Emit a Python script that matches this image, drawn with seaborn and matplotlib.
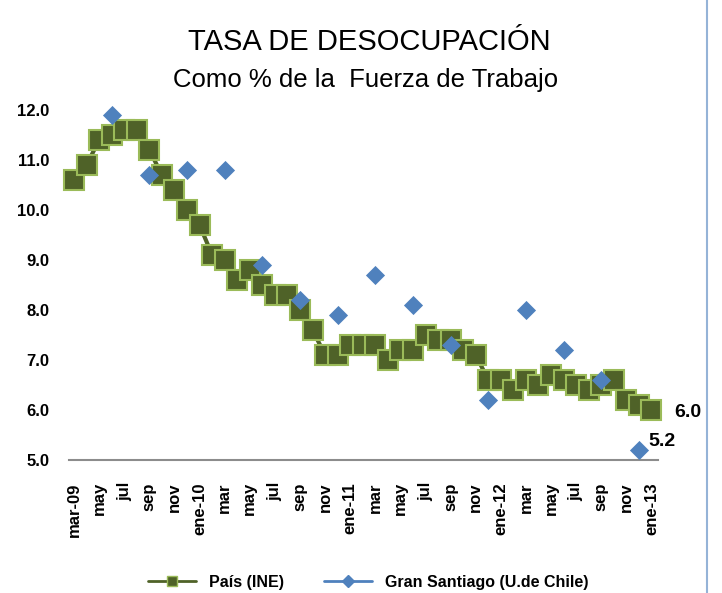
import numpy as np
import pandas as pd
import matplotlib.pyplot as plt
import seaborn as sns
from matplotlib.lines import Line2D

# Tasa de desocupación, marzo 2009 - enero 2013 (mensual)
meses = ["mar-09", "abr", "may", "jun", "jul", "ago", "sep", "oct", "nov", "dic",
         "ene-10", "feb", "mar", "abr", "may", "jun", "jul", "ago", "sep", "oct", "nov", "dic",
         "ene-11", "feb", "mar", "abr", "may", "jun", "jul", "ago", "sep", "oct", "nov", "dic",
         "ene-12", "feb", "mar", "abr", "may", "jun", "jul", "ago", "sep", "oct", "nov", "dic",
         "ene-13"]
pais_ine = [10.6, 10.9, 11.4, 11.5, 11.6, 11.6, 11.2, 10.7, 10.4, 10.0,
            9.7, 9.1, 9.0, 8.6, 8.8, 8.5, 8.3, 8.3, 8.0, 7.6, 7.1, 7.1,
            7.3, 7.3, 7.3, 7.0, 7.2, 7.2, 7.5, 7.4, 7.4, 7.2, 7.1, 6.6,
            6.6, 6.4, 6.6, 6.5, 6.7, 6.6, 6.5, 6.4, 6.5, 6.6, 6.2, 6.1,
            6.0]
# Gran Santiago (U. de Chile), trimestral: jun, sep, dic, mar
gs_meses = ["jun", "sep", "dic", "mar", "jun", "sep", "dic", "mar", "jun", "sep",
            "dic", "mar", "jun", "sep", "dic"]
gs_idx = [3, 6, 9, 12, 15, 18, 21, 24, 27, 30, 33, 36, 39, 42, 45]
gran_santiago = [11.9, 10.7, 10.8, 10.8, 8.9, 8.2, 7.9, 8.7, 8.1, 7.3,
                 6.2, 8.0, 7.2, 6.6, 5.2]

df = pd.DataFrame({"mes": meses, "pais": pais_ine})
df["i"] = range(len(df))
gs = pd.DataFrame({"i": gs_idx, "gs": gran_santiago})

sns.set_style("white")
plt.rcParams["font.family"] = ["Liberation Sans", "DejaVu Sans"]
plt.rcParams["text.color"] = "black"
plt.rcParams["xtick.color"] = "black"
plt.rcParams["ytick.color"] = "black"

verde = "#4F6228"
verde_borde = "#9BBB59"
azul = "#4F81BD"

fig = plt.figure(figsize=(7.22, 5.93), dpi=100)
ax = fig.add_axes([0.0956, 0.2243, 0.8154, 0.5902])

sns.lineplot(data=df, x="i", y="pais", ax=ax, color=verde, linewidth=3,
             marker="s", markersize=14, markerfacecolor=verde,
             markeredgecolor=verde_borde, markeredgewidth=1.5, clip_on=False)
sns.scatterplot(data=gs, x="i", y="gs", ax=ax, marker="D", s=95, color=azul,
                edgecolor=azul, linewidth=0, zorder=5, clip_on=False)

ax.set_xlim(-0.4, 46.5)
ax.set_ylim(5, 12)
ax.set_yticks(np.arange(5, 12.1, 1))
ax.set_yticklabels([f"{v:.1f}" for v in np.arange(5, 12.1, 1)],
                   fontsize=12, fontweight="bold")
ticks = list(range(0, len(meses), 2))
ax.set_xticks(ticks)
ax.set_xticklabels([meses[t] for t in ticks], rotation=90, fontsize=12,
                   fontweight="bold")
ax.tick_params(axis="y", length=0, pad=14)
ax.tick_params(axis="x", length=0, pad=16)
ax.set_xlabel("")
ax.set_ylabel("")
for s in ["left", "right", "top"]:
    ax.spines[s].set_visible(False)
ax.spines["bottom"].set_color("#8C8C8C")
ax.spines["bottom"].set_linewidth(1.5)

ax.annotate(f"{pais_ine[-1]:.1f}", (len(meses) - 1, pais_ine[-1]),
            xytext=(16.5, -2), textcoords="offset points", ha="left", va="center",
            fontsize=14, fontweight="bold", annotation_clip=False)
ax.annotate(f"{gran_santiago[-1]:.1f}", (gs_idx[-1], gran_santiago[-1]),
            xytext=(7, 6), textcoords="offset points", ha="left", va="center",
            fontsize=14, fontweight="bold", annotation_clip=False)

fig.text(0.511, 0.916, "TASA DE DESOCUPACIÓN", ha="center", va="baseline",
         fontsize=21, fontstretch="condensed",
         family=["Liberation Sans Narrow", "Liberation Sans"])
fig.text(0.506, 0.853, "Como % de la  Fuerza de Trabajo", ha="center",
         va="baseline", fontsize=18.5)

handles = [
    Line2D([], [], color=verde, linewidth=2, marker="s", markersize=7,
           markerfacecolor=verde, markeredgecolor=verde_borde),
    Line2D([], [], color=azul, linewidth=2, marker="D", markersize=6,
           markerfacecolor=azul, markeredgecolor=azul),
]
fig.legend(handles, ["País (INE)", "Gran Santiago (U.de Chile)"],
           loc="center", bbox_to_anchor=(0.51, 0.018), ncol=2, frameon=False,
           prop={"weight": "bold", "size": 11.5}, handlelength=3,
           columnspacing=2.5)

fig.add_artist(Line2D([0.979, 0.979], [0, 1], color="#95B3D7", linewidth=1.5,
                      transform=fig.transFigure))

fig.savefig("out.png", dpi=100)
